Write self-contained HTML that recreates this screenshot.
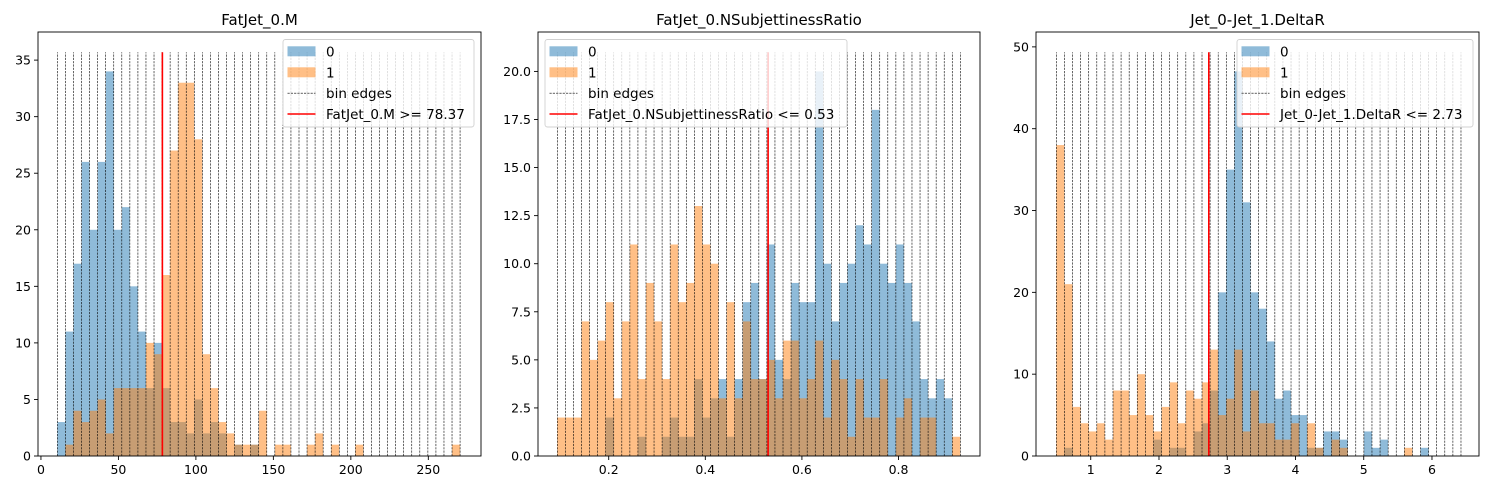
<!DOCTYPE html>
<html><head><meta charset="utf-8">
<style>
html,body{margin:0;padding:0;background:#fff;}
svg{display:block;font-family:"DejaVu Sans","Liberation Sans",sans-serif;}
</style></head>
<body>
<svg id="fig" width="1489" height="490" viewBox="0 0 1489 490" xmlns="http://www.w3.org/2000/svg"></svg>
<script>
// ---- Panel 1: FatJet_0.M ----
const p1Title = "FatJet_0.M";
const p1BinRange = [10.6, 270.5];
const p1Blue = [3,11,17,26,20,26,34,20,22,15,11,6,10,6,3,3,2,5,2,3,2,0,1,0,1,0,0,0,0,0,0,0,0,0,0,0,0,0,0,0,0,0,0,0,0,0,0,0,0,0];
const p1Orange = [0,1,4,3,4,5,2,6,6,6,6,10,9,16,27,33,33,28,9,6,3,2,1,1,1,4,0,1,1,0,0,1,2,0,1,0,0,1,0,0,0,0,0,0,0,0,0,0,0,1];
const p1Cut = 78.37;
const p1Label = "FatJet_0.M >= 78.37";
const p1XTicks = [0,50,100,150,200,250];
const p1XTickLabels = ["0","50","100","150","200","250"];
const p1YTicks = [0,5,10,15,20,25,30,35];
const p1YTickLabels = ["0","5","10","15","20","25","30","35"];

// ---- Panel 2: FatJet_0.NSubjettinessRatio ----
const p2Title = "FatJet_0.NSubjettinessRatio";
const p2BinRange = [0.0936, 0.928];
const p2Blue = [0,0,0,0,0,0,2,0,0,0,1,0,0,1,2,1,1,4,2,3,4,1,4,8,9,4,11,5,4,9,8,8,20,10,7,9,10,12,11,18,10,9,11,9,7,4,3,4,3,0];
const p2Orange = [2,2,2,7,5,6,8,3,7,11,4,9,7,4,11,8,9,13,11,10,3,8,3,7,4,4,5,3,6,6,3,4,6,2,5,4,1,4,2,2,4,0,2,3,0,2,2,0,0,1];
const p2Cut = 0.53;
const p2Label = "FatJet_0.NSubjettinessRatio <= 0.53";
const p2XTicks = [0.2,0.4,0.6,0.8];
const p2XTickLabels = ["0.2","0.4","0.6","0.8"];
const p2YTicks = [0,2.5,5,7.5,10,12.5,15,17.5,20];
const p2YTickLabels = ["0.0","2.5","5.0","7.5","10.0","12.5","15.0","17.5","20.0"];

// ---- Panel 3: Jet_0-Jet_1.DeltaR ----
const p3Title = "Jet_0-Jet_1.DeltaR";
const p3BinRange = [0.496, 6.425];
const p3Blue = [0,1,0,0,0,0,0,0,0,0,0,0,2,0,1,1,0,3,4,8,20,35,47,31,20,18,14,7,8,5,5,1,1,3,3,2,0,0,3,1,2,0,0,0,0,1,0,0,0,0];
const p3Orange = [38,21,6,4,3,4,2,8,8,5,10,5,3,6,9,4,8,7,9,13,5,7,13,3,8,4,4,2,2,4,0,4,1,0,2,1,0,0,0,0,0,0,0,1,0,0,0,0,0,0];
const p3Cut = 2.73;
const p3Label = "Jet_0-Jet_1.DeltaR <= 2.73";
const p3XTicks = [1,2,3,4,5,6];
const p3XTickLabels = ["1","2","3","4","5","6"];
const p3YTicks = [0,10,20,30,40,50];
const p3YTickLabels = ["0","10","20","30","40","50"];

const NS = "http://www.w3.org/2000/svg";
const fig = document.getElementById("fig");
function mk(tag, attrs, parent){
  const e = document.createElementNS(NS, tag);
  for (const k in attrs) e.setAttribute(k, attrs[k]);
  (parent||fig).appendChild(e);
  return e;
}

const panels = [
  {title:p1Title, range:p1BinRange, blue:p1Blue, orange:p1Orange, cut:p1Cut, label:p1Label,
   xt:p1XTicks, xtl:p1XTickLabels, yt:p1YTicks, ytl:p1YTickLabels,
   L:38, R:481, dom:[-1.9,284.0], leg:{x:283, w:191}, key:"p1"},
  {title:p2Title, range:p2BinRange, blue:p2Blue, orange:p2Orange, cut:p2Cut, label:p2Label,
   xt:p2XTicks, xtl:p2XTickLabels, yt:p2YTicks, ytl:p2YTickLabels,
   L:538, R:980, dom:[0.0536,0.9687], leg:{x:545, w:302}, key:"p2"},
  {title:p3Title, range:p3BinRange, blue:p3Blue, orange:p3Orange, cut:p3Cut, label:p3Label,
   xt:p3XTicks, xtl:p3XTickLabels, yt:p3YTicks, ytl:p3YTickLabels,
   L:1036, R:1479, dom:[0.198,6.689], leg:{x:1237, w:236}, key:"p3"}
];
const TOP = 32, BOT = 456;

panels.forEach(function(p){
  const g = mk("g", {});
  
  
  const n = p.blue.length;
  const maxC = Math.max(Math.max.apply(null,p.blue), Math.max.apply(null,p.orange));
  const vTop = maxC*1.05;
  const yMax = vTop*1.05;
  const xs = function(v){ return p.L + (v-p.dom[0])/(p.dom[1]-p.dom[0])*(p.R-p.L); };
  const ys = function(v){ return BOT - v/yMax*(BOT-TOP); };
  const w = (p.range[1]-p.range[0])/n;

  [[p.blue,"#1f77b4","blue"],[p.orange,"#ff7f0e","orange"]].forEach(function(s){
    s[0].forEach(function(c,i){
      if (c<=0) return;
      const x0 = xs(p.range[0]+i*w), x1 = xs(p.range[0]+(i+1)*w);
      const r = mk("rect", {x:x0, y:ys(c), width:x1-x0, height:BOT-ys(c), fill:s[1], "fill-opacity":0.5}, g);
      
      
    });
  });
  for (let i=0;i<=n;i++){
    const x = xs(p.range[0]+i*w);
    const l = mk("line", {x1:x, x2:x, y1:ys(0), y2:ys(vTop), stroke:"#000", "stroke-width":0.6, "stroke-dasharray":"2.2,1.1"}, g);
    
    
  }
  const cl = mk("line", {x1:xs(p.cut), x2:xs(p.cut), y1:ys(0), y2:ys(vTop), stroke:"#ff0000", "stroke-width":1.6}, g);
  
  

  const fr = mk("rect", {x:p.L, y:TOP, width:p.R-p.L, height:BOT-TOP, fill:"none", stroke:"#000", "stroke-width":0.9}, g);
  
  

  p.xt.forEach(function(v,i){
    const x = xs(v);
    mk("line", {x1:x,x2:x,y1:BOT,y2:BOT+4,stroke:"#000","stroke-width":0.9}, g);
    const t = mk("text", {x:x, y:BOT+18, "font-size":12.5, "text-anchor":"middle", fill:"#000"}, g);
    t.textContent = p.xtl[i];
    
    
  });
  p.yt.forEach(function(v,i){
    const y = ys(v);
    mk("line", {x1:p.L-4,x2:p.L,y1:y,y2:y,stroke:"#000","stroke-width":0.9}, g);
    const t = mk("text", {x:p.L-7, y:y+4.5, "font-size":12.5, "text-anchor":"end", fill:"#000"}, g);
    t.textContent = p.ytl[i];
    
    
  });
  const tt = mk("text", {x:(p.L+p.R)/2, y:25, "font-size":15, "text-anchor":"middle", fill:"#000"}, g);
  tt.textContent = p.title;
  
  

  const lg = mk("g", {}, g);
  
  
  const lx = p.leg.x, lw = p.leg.w;
  mk("rect", {x:lx, y:39.5, width:lw, height:87.5, rx:2.5, fill:"#fff", "fill-opacity":0.8, stroke:"#d0d0d0", "stroke-width":0.9}, lg);
  const rows = [51.3, 72.3, 93.2, 114];
  const px = lx+4.5, tx = lx+43;
  mk("rect", {x:px, y:rows[0]-5, width:28, height:10, fill:"#1f77b4", "fill-opacity":0.5}, lg);
  mk("rect", {x:px, y:rows[1]-5, width:28, height:10, fill:"#ff7f0e", "fill-opacity":0.5}, lg);
  mk("line", {x1:px, x2:px+28, y1:rows[2], y2:rows[2], stroke:"#000", "stroke-width":0.6, "stroke-dasharray":"2.2,1.1"}, lg);
  mk("line", {x1:px, x2:px+28, y1:rows[3], y2:rows[3], stroke:"#ff0000", "stroke-width":1.6}, lg);
  const labels = ["0","1","bin edges",p.label];
  labels.forEach(function(s,i){
    const t = mk("text", {x:tx, y:rows[i]+5, "font-size":13.5, fill:"#000"}, lg);
    t.textContent = s;
    
    
  });
});
</script>
</body></html>
